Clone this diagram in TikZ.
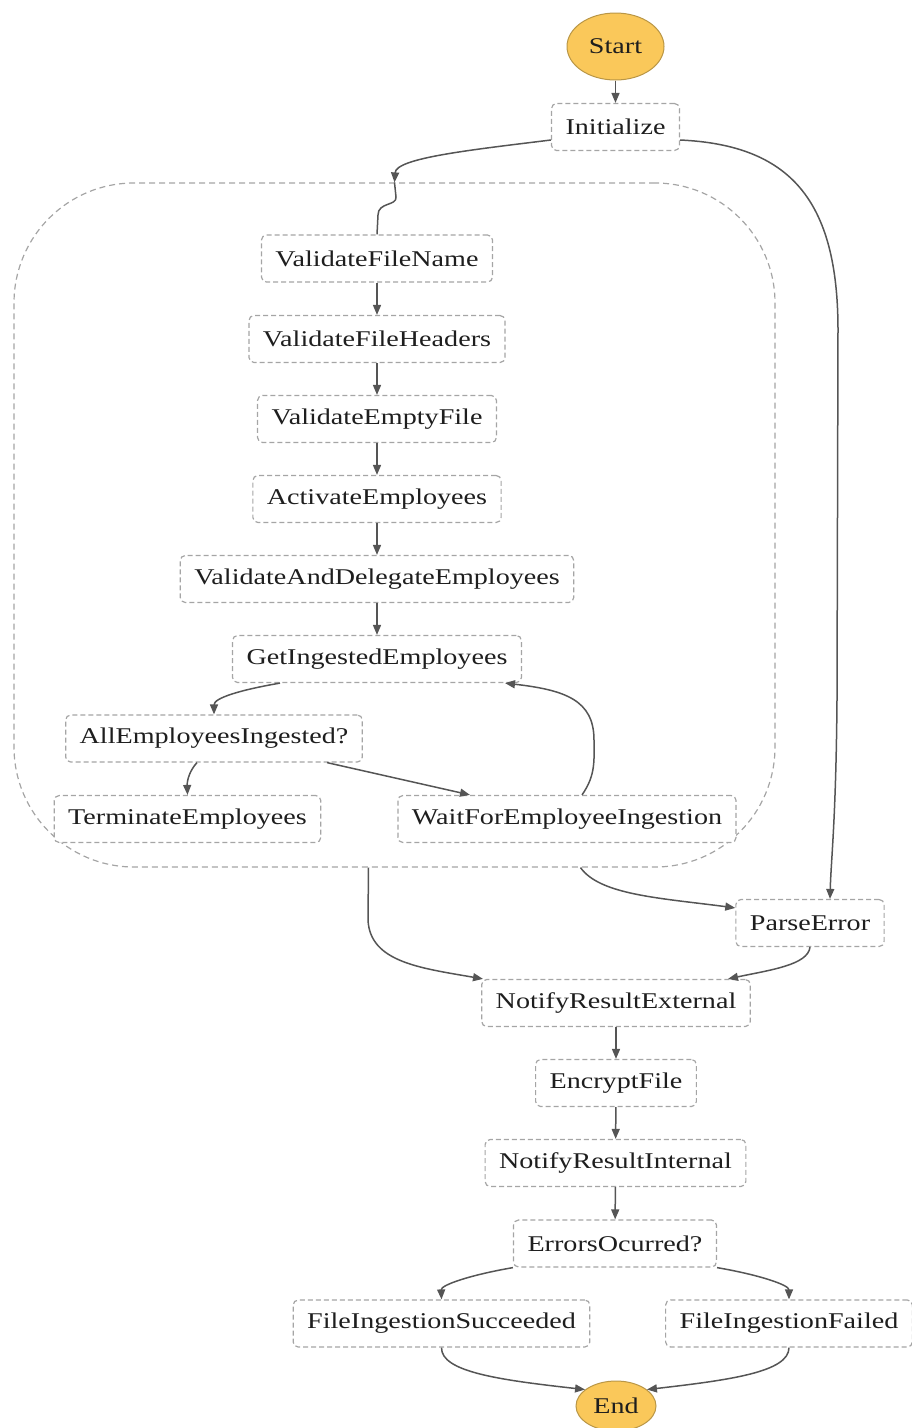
\documentclass[tikz,border=0pt]{standalone}
\usepackage{fontspec}
\setmainfont[FakeStretch=1.25]{Liberation Serif}
\usetikzlibrary{arrows.meta,shapes.geometric}
\definecolor{boxgray}{RGB}{165,165,165}
\definecolor{arrowgray}{RGB}{85,85,85}
\definecolor{termfill}{RGB}{250,200,90}
\definecolor{termedge}{RGB}{185,150,70}
\definecolor{txt}{RGB}{30,30,30}

\begin{document}
\begin{tikzpicture}[x=1pt,y=-1pt,
  lbl/.style={font=\fontsize{22.5}{27}\selectfont, text=txt},
  state/.style={lbl, draw=boxgray, dash pattern=on 5pt off 3pt, line width=1.2pt,
    rounded corners=5pt, fill=white, minimum height=47pt, inner xsep=14pt},
  terminal/.style={lbl, ellipse, draw=termedge, fill=termfill, line width=1pt, inner sep=0pt},
  groupbox/.style={draw=boxgray, dash pattern=on 6pt off 4pt, line width=1.2pt,
    rounded corners=120pt, inner sep=0pt},
  link/.style={draw=arrowgray, line width=1.5pt},
  flow/.style={link, -{Triangle[length=10pt,width=8pt]}},
]
\useasboundingbox (0,0) rectangle (912,1428);

% processing block
\node[groupbox, minimum width=761pt, minimum height=684pt] (group) at (394.5,525) {};

% states
\node[terminal, minimum width=97pt, minimum height=67pt] (start) at (615.5,46.5) {Start};
\node[state] (init) at (615.5,127) {Initialize};
\node[state] (vfn) at (377,258.5) {ValidateFileName};
\node[state] (vfh) at (377,339) {ValidateFileHeaders};
\node[state] (vef) at (377,419) {ValidateEmptyFile};
\node[state] (act) at (377,499) {ActivateEmployees};
\node[state] (vde) at (377,579) {ValidateAndDelegateEmployees};
\node[state] (gie) at (377,659) {GetIngestedEmployees};
\node[state] (all) at (214,738.5) {AllEmployeesIngested?};
\node[state] (term) at (187.5,819) {TerminateEmployees};
\node[state] (wait) at (567,819) {WaitForEmployeeIngestion};
\node[state] (pe) at (810,923) {ParseError};
\node[state] (nre) at (616,1003) {NotifyResultExternal};
\node[state] (enc) at (616,1083) {EncryptFile};
\node[state] (nri) at (615.5,1163) {NotifyResultInternal};
\node[state] (err) at (615,1243.5) {ErrorsOcurred?};
\node[state] (fis) at (441.5,1323.5) {FileIngestionSucceeded};
\node[state] (fif) at (789,1323.5) {FileIngestionFailed};
\node[terminal, minimum width=80pt, minimum height=50pt] (end) at (616,1406) {End};

% transitions
\draw[flow] (start) -- (init);
\draw[flow] ([yshift=-13pt]init.west) .. controls (470,150) and (396,158) .. (group.north);
\draw[link] (group.north) -- (396,197) .. controls (397,206) and (378,202) .. (378,215) -- (vfn.north);
\draw[flow] ([yshift=-13pt]init.east) .. controls (790,145) and (838,200) .. (838,330)
  -- (837,700) .. controls (836,820) and (831,860) .. ([xshift=20pt]pe.north);

\draw[flow] (vfn) -- (vfh);
\draw[flow] (vfh) -- (vef);
\draw[flow] (vef) -- (act);
\draw[flow] (act) -- (vde);
\draw[flow] (vde) -- (gie);
\draw[flow] ([xshift=-97pt]gie.south) .. controls (240,690) and (214,698) .. (all.north);
\draw[flow] ([xshift=-17pt]all.south) .. controls (190,770) and (187,780) .. (term.north);
\draw[flow] ([xshift=113pt]all.south) -- ([xshift=-97pt]wait.north);
\draw[flow] ([xshift=15pt]wait.north) .. controls (596,775) and (594,760) .. (594,740)
  .. controls (594,700) and (565,690) .. ([xshift=128pt]gie.south);

\draw[flow] ([xshift=-26pt]group.south) -- (368,920) .. controls (370,962) and (420,968) .. ([xshift=-133pt]nre.north);
\draw[flow] ([xshift=186pt]group.south) .. controls (600,895) and (660,898) .. ([yshift=-9pt]pe.north west);
\draw[flow] (pe.south) .. controls (808,965) and (770,970) .. ([xshift=112pt]nre.north);

\draw[flow] (nre) -- (enc);
\draw[flow] (enc) -- (nri);
\draw[flow] (nri) -- (err);
\draw[flow] (err.south west) .. controls (470,1275) and (441,1285) .. (fis.north);
\draw[flow] (err.south east) .. controls (760,1275) and (789,1285) .. (fif.north);
\draw[flow] (fis.south) .. controls (441,1372) and (500,1380) .. (end.152);
\draw[flow] (fif.south) .. controls (789,1372) and (730,1380) .. (end.28);
\end{tikzpicture}
\end{document}
